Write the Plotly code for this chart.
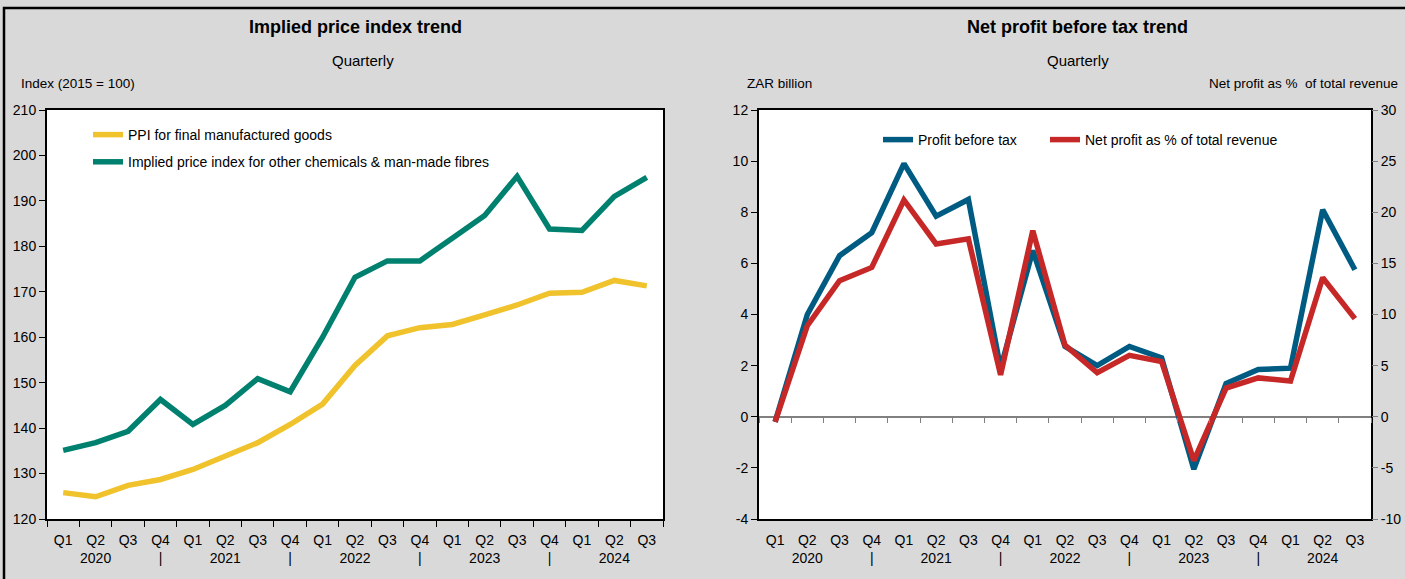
import plotly.graph_objects as go

# ---------------- data ----------------
tick_labels = ["Q1", "Q2<br>2020", "Q3", "Q4<br>|",
               "Q1", "Q2<br>2021", "Q3", "Q4<br>|",
               "Q1", "Q2<br>2022", "Q3", "Q4<br>|",
               "Q1", "Q2<br>2023", "Q3", "Q4<br>|",
               "Q1", "Q2<br>2024", "Q3"]

ppi_final = [125.8, 124.9, 127.4, 128.7, 130.9, 133.9, 136.8, 140.8, 145.3, 153.8,
             160.3, 162.1, 162.8, 164.9, 167.1, 169.7, 169.9, 172.5, 171.3]
implied_chem = [135.1, 136.8, 139.3, 146.3, 140.8, 145.0, 150.9, 148.0, 160.0, 173.2,
                176.8, 176.8, 181.8, 186.8, 195.4, 183.8, 183.5, 191.0, 195.2]

profit_before_tax = [-0.2, 4.0, 6.3, 7.2, 9.9, 7.85, 8.5, 1.9, 6.5, 2.75,
                     2.0, 2.75, 2.3, -2.05, 1.3, 1.85, 1.9, 8.1, 5.75]
net_profit_pct = [-0.5, 8.9, 13.3, 14.6, 21.2, 16.9, 17.4, 4.1, 18.2, 7.0,
                  4.3, 6.0, 5.4, -4.3, 2.8, 3.8, 3.5, 13.6, 9.6]

index_ticks = [120, 130, 140, 150, 160, 170, 180, 190, 200, 210]
zar_ticks = [-4, -2, 0, 2, 4, 6, 8, 10, 12]
pct_ticks = [-10, -5, 0, 5, 10, 15, 20, 25, 30]

# ---------------- layout helpers ----------------
W, H = 1405, 579
def px(x):
    return x / W
def py(y):
    return 1 - y / H

x_idx = list(range(len(tick_labels)))
bounds = [i - 0.5 for i in range(len(tick_labels) + 1)]
xr = [-0.5, len(tick_labels) - 0.5]

FONT = "Liberation Sans, Arial"

YELLOW = "#F0C22C"
TEAL = "#00806E"
BLUE = "#005B82"
RED = "#C62828"

left_dom = [px(47), px(663)]
right_dom = [px(759), px(1371)]
y_dom = [py(519), py(110)]

fig = go.Figure()

fig.add_trace(go.Scatter(x=x_idx, y=ppi_final, mode="lines", name="PPI for final manufactured goods",
                         line=dict(color=YELLOW, width=5.5), xaxis="x", yaxis="y",
                         legend="legend", legendgroup="a"))
fig.add_trace(go.Scatter(x=x_idx, y=implied_chem, mode="lines",
                         name="Implied price index for other chemicals & man-made fibres",
                         line=dict(color=TEAL, width=5.5), xaxis="x", yaxis="y",
                         legend="legend", legendgroup="b"))
fig.add_trace(go.Scatter(x=x_idx, y=profit_before_tax, mode="lines", name="Profit before tax",
                         line=dict(color=BLUE, width=5.5), xaxis="x2", yaxis="y2",
                         legend="legend2"))
fig.add_trace(go.Scatter(x=x_idx, y=net_profit_pct, mode="lines", name="Net profit as % of total revenue",
                         line=dict(color=RED, width=5.5), xaxis="x2", yaxis="y3",
                         legend="legend3"))
# helper trace so that the zero-crossing tick axis is drawn
fig.add_trace(go.Scatter(x=[None], y=[None], xaxis="x4", yaxis="y2", showlegend=False,
                         hoverinfo="skip"))

tickfont = dict(family=FONT, size=14, color="#000")

common_x = dict(range=xr, tickmode="array", tickvals=x_idx, ticktext=tick_labels,
                ticks="", showgrid=False, zeroline=False, showline=True, mirror=True,
                linecolor="#000", linewidth=2, tickfont=tickfont, ticklabelstandoff=7,
                automargin=False, fixedrange=True)

y_pos0 = y_dom[0] + (0 - (-4)) / (12 - (-4)) * (y_dom[1] - y_dom[0])

legend_font = dict(family=FONT, size=14, color="#000")

fig.update_layout(
    width=W, height=H,
    margin=dict(l=0, r=0, t=0, b=0, autoexpand=False),
    paper_bgcolor="#D9D9D9",
    plot_bgcolor="#FFFFFF",
    showlegend=True,
    xaxis=dict(domain=left_dom, anchor="y",
               minor=dict(tickmode="array", tickvals=bounds, ticks="outside", ticklen=6,
                          tickcolor="#000", tickwidth=1),
               **common_x),
    yaxis=dict(domain=y_dom, anchor="x", range=[index_ticks[0], index_ticks[-1]],
               tickmode="array", tickvals=index_ticks, ticktext=[str(v) for v in index_ticks],
               ticks="outside", ticklen=6, tickcolor="#000", showgrid=False, zeroline=False,
               showline=True, mirror=True, linecolor="#000", linewidth=2, tickfont=tickfont,
               automargin=False, fixedrange=True),
    xaxis2=dict(domain=right_dom, anchor="y2", **common_x),
    yaxis2=dict(domain=y_dom, anchor="x2", range=[zar_ticks[0], zar_ticks[-1]],
                tickmode="array", tickvals=zar_ticks, ticktext=[str(v) for v in zar_ticks],
                ticks="outside", ticklen=6, tickcolor="#000", showgrid=False,
                zeroline=True, zerolinecolor="#808080", zerolinewidth=1.5,
                showline=True, mirror=True, linecolor="#000", linewidth=2, tickfont=tickfont,
                automargin=False, fixedrange=True),
    yaxis3=dict(overlaying="y2", side="right", anchor="x2", range=[pct_ticks[0], pct_ticks[-1]],
                tickmode="array", tickvals=pct_ticks, ticktext=[str(v) for v in pct_ticks],
                ticks="outside", ticklen=6, tickcolor="#808080", showgrid=False, zeroline=False,
                showline=False, tickfont=tickfont, automargin=False, fixedrange=True),
    xaxis4=dict(overlaying="x2", anchor="free", position=y_pos0, range=xr,
                tickmode="array", tickvals=bounds, ticks="outside", ticklen=5,
                tickcolor="#808080", showticklabels=False, showline=False, showgrid=False,
                zeroline=False, automargin=False, fixedrange=True),
    legend=dict(x=px(88), y=py(119), xanchor="left", yanchor="top",
                bgcolor="rgba(0,0,0,0)", font=legend_font,
                traceorder="grouped", tracegroupgap=6),
    legend2=dict(x=px(878), y=py(124), xanchor="left", yanchor="top",
                 bgcolor="rgba(0,0,0,0)", font=legend_font),
    legend3=dict(x=px(1045), y=py(124), xanchor="left", yanchor="top",
                 bgcolor="rgba(0,0,0,0)", font=legend_font),
)

annotations = [
    dict(text="<b>Implied price index trend</b>", x=px(355), y=py(27), font=dict(family=FONT, size=18)),
    dict(text="Quarterly", x=px(363), y=py(60), font=dict(family=FONT, size=15)),
    dict(text="Index (2015 = 100)", x=px(19), y=py(84), xanchor="left", font=dict(family=FONT, size=13.5)),
    dict(text="<b>Net profit before tax trend</b>", x=px(1077), y=py(27), font=dict(family=FONT, size=18)),
    dict(text="Quarterly", x=px(1078), y=py(60), font=dict(family=FONT, size=15)),
    dict(text="ZAR billion", x=px(745), y=py(84), xanchor="left", font=dict(family=FONT, size=13.5)),
    dict(text="Net profit as %  of total revenue", x=px(1400), y=py(84), xanchor="right",
         font=dict(family=FONT, size=13.5)),
]
for a in annotations:
    a.setdefault("xanchor", "center")
    a.update(xref="paper", yref="paper", yanchor="middle", showarrow=False)
    a["font"]["color"] = "#000"
fig.update_layout(annotations=annotations)

fig.add_shape(type="rect", xref="paper", yref="paper", x0=px(4), x1=px(1420), y0=py(8), y1=py(600),
              line=dict(color="#000", width=2.5), fillcolor="rgba(0,0,0,0)", layer="above")

fig.write_html("out.html", config={"displayModeBar": False},
               post_script="document.body.style.margin='0px';")
